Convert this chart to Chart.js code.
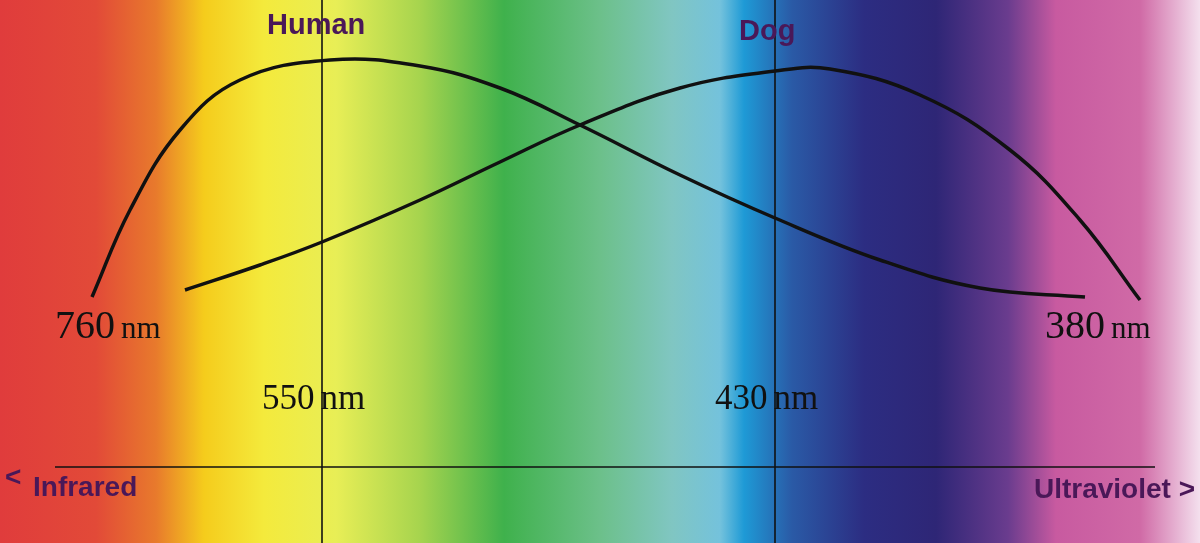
<!DOCTYPE html>
<html><head><meta charset="utf-8">
<script src="https://cdn.jsdelivr.net/npm/chart.js@4"></script>
<style>html,body{margin:0;padding:0;overflow:hidden}#w{width:1200px;height:543px}</style>
</head><body><div id="w"><canvas id="c"></canvas></div>
<script>
// Positions along spectrum (arbitrary units, 0..1200) and sensitivity (0..543)
const humanX = [92,130,180,240,330,420,500,580,680,775,880,980,1085];
const humanY = [246,333,413,463,483,477,455,418,368,325,283,255,246];
const dogX = [185,260,322,420,500,580,680,775,830,920,1010,1080,1140];
const dogY = [253,278,301,343,381,418,455,472,474,448,393,323,243];
const markerX = [322,775];
const markerLabels = ["550","430"];
const endLabels = ["760","380"];
const axisX = [55,1155];
const axisY = 76;

const pts=(xs,ys)=>xs.map((x,i)=>({x,y:ys[i]}));
const lineDs=(data,w,t)=>({data,borderColor:'#111',borderWidth:w,pointRadius:0,tension:t||0,fill:false});

const bg={id:'bg',beforeDraw(ch){const {ctx,chartArea:a}=ch;const g=ctx.createLinearGradient(a.left,0,a.right,0);
const st=[[0,'#e03c3c'],[0.08,'#e24a38'],[0.13,'#e87a2c'],[0.17,'#f5cc1c'],[0.22,'#f4ea3c'],[0.28,'#e8ee56'],[0.35,'#a6d44e'],[0.42,'#3fb14c'],[0.5,'#6cc08a'],[0.56,'#80c6c2'],[0.6,'#74c2dc'],[0.62,'#1e9ad6'],[0.66,'#2a5aa6'],[0.72,'#2c2d82'],[0.78,'#2e2676'],[0.84,'#6a3c8e'],[0.88,'#c85aa0'],[0.95,'#d06aa6'],[1,'#f4e0ee']];
st.forEach(s=>g.addColorStop(s[0],s[1]));ctx.fillStyle=g;ctx.fillRect(a.left,a.top,a.width,a.height);}};

const txt={id:'txt',afterDraw(ch){const ctx=ch.ctx,xs=ch.scales.x;ctx.save();
ctx.fillStyle='#4a1858';ctx.font='bold 29px "Liberation Sans", Arial';ctx.textBaseline='alphabetic';
ctx.textAlign='left';ctx.fillText('Human',267,34);ctx.fillText('Dog',739,40);
ctx.font='bold 28px "Liberation Sans", Arial';
ctx.fillText('<',5,486);ctx.fillText('Infrared',33,496);ctx.textAlign='right';ctx.fillText('Ultraviolet >',1195,498);
ctx.fillStyle='#111';ctx.textAlign='left';
const nm=(num,x,y,big,sm)=>{ctx.font=big+'px "Liberation Serif", serif';ctx.fillText(num,x,y);const w=ctx.measureText(num).width;ctx.font=sm+'px "Liberation Serif", serif';ctx.fillText('nm',x+w+6,y);};
nm(endLabels[0],55,338,40,31);nm(endLabels[1],1045,338,40,31);
nm(markerLabels[0],262,409,35,35);
nm(markerLabels[1],715,409,35,35);
ctx.restore();}};

new Chart(document.getElementById('c'),{type:'line',
data:{datasets:[
lineDs(pts(humanX,humanY),3.5,0.4),lineDs(pts(dogX,dogY),3.5,0.4),
lineDs([{x:markerX[0],y:0},{x:markerX[0],y:543}],1.6),
lineDs([{x:markerX[1],y:0},{x:markerX[1],y:543}],1.6),
lineDs([{x:axisX[0],y:axisY},{x:axisX[1],y:axisY}],1.6)]},
options:{responsive:true,maintainAspectRatio:false,animation:false,layout:{padding:0},
plugins:{legend:{display:false},tooltip:{enabled:false}},
scales:{x:{type:'linear',min:0,max:1200,display:false},y:{min:0,max:543,display:false}}},
plugins:[bg,txt]});
</script></body></html>
